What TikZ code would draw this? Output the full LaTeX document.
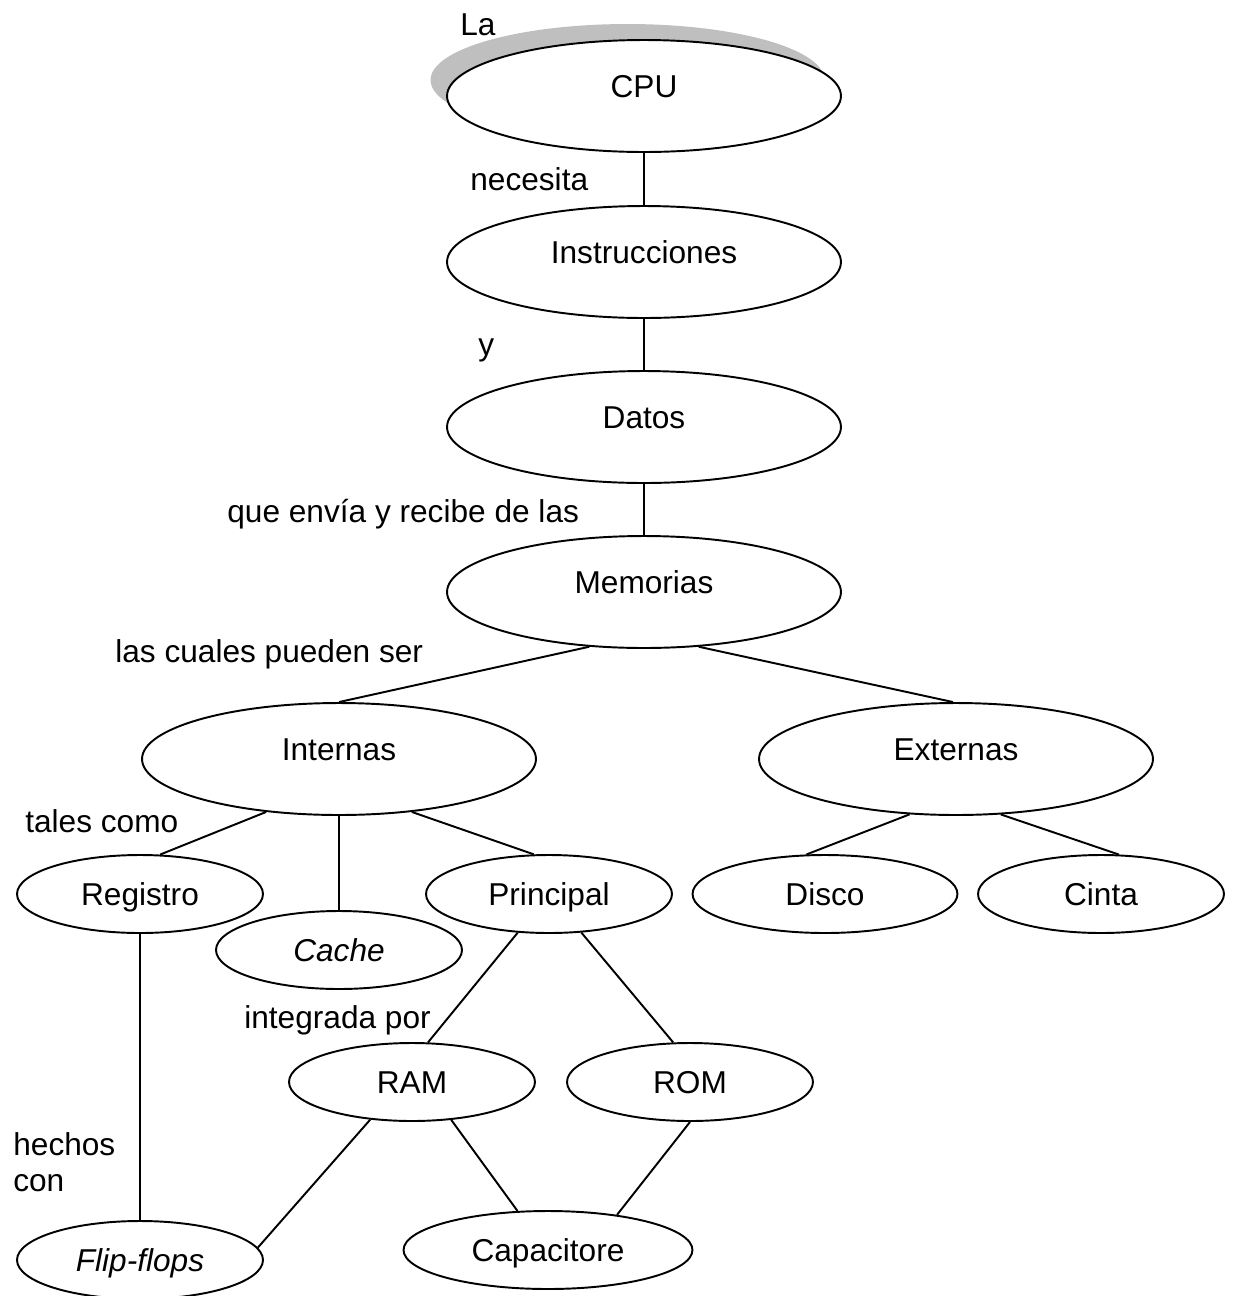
\documentclass[tikz,border=0pt]{standalone}
\usepackage{fontspec}
\setmainfont{Liberation Sans}
\usetikzlibrary{shapes.geometric,shadows}

\begin{document}
\begin{tikzpicture}[x=0.02cm,y=-0.02cm,
  every node/.style={font=\fontsize{18}{20.5}\selectfont, inner sep=0pt},
  grande/.style={ellipse,draw,fill=white,line width=1.1pt,minimum width=7.88cm,minimum height=2.24cm,text height=13pt,text depth=11pt},
  chica/.style={ellipse,draw,fill=white,line width=1.1pt,minimum width=4.92cm,minimum height=1.56cm,text height=13pt,text depth=0pt},
  enlace/.style={line width=1.1pt},
  rotulo/.style={anchor=base west}]
\useasboundingbox (0,0) rectangle (1233,1296);

% columna central
\node[grande,drop shadow={shadow xshift=-0.33cm,shadow yshift=0.32cm,fill=gray!50,opacity=1}] (cpu) at (644,96) {CPU};
\node[grande] (ins) at (644,262) {Instrucciones};
\node[grande] (dat) at (644,427) {Datos};
\node[grande] (mem) at (644,592) {Memorias};

% tipos de memoria
\node[grande] (int) at (339,759) {Internas};
\node[grande] (ext) at (956,759) {Externas};
\node[chica] (reg) at (140,894) {Registro};
\node[chica] (cac) at (339,950) {\textit{Cache}};
\node[chica] (pri) at (549,894) {Principal};
\node[chica,minimum width=5.3cm] (dis) at (825,894) {Disco};
\node[chica] (cin) at (1101,894) {Cinta};
\node[chica] (ram) at (412,1082) {RAM};
\node[chica] (rom) at (690,1082) {ROM};
\node[chica,minimum width=5.78cm] (cap) at (548,1250) {Capacitore};
\node[chica] (ffl) at (140,1260) {\textit{Flip-flops}};

\draw[enlace] (cpu.south) -- (ins.north);
\draw[enlace] (ins.south) -- (dat.north);
\draw[enlace] (dat.south) -- (mem.north);
\draw[enlace] (mem.225) -- (int.north);
\draw[enlace] (mem.315) -- (ext.93);
\draw[enlace] (int.216) -- (reg.63);
\draw[enlace] (int.south) -- (cac.north);
\draw[enlace] (int.324) -- (pri.111);
\draw[enlace] (ext.230) -- (dis.115);
\draw[enlace] (ext.309) -- (cin.66);
\draw[enlace] (reg.south) -- (ffl.north);
\draw[enlace] (pri.231) -- (ram.68);
\draw[enlace] (pri.310) -- (rom.113);
\draw[enlace] (ram.222) -- (ffl.6);
\draw[enlace] (ram.316) -- (cap.128);
\draw[enlace] (rom.south) -- (cap.27);

% palabras de enlace
\node[rotulo] (la) at (460,35) {La};
\node[rotulo] (nec) at (470,190) {necesita};
\node[rotulo] (yy) at (478,355) {y};
\node[rotulo] (env) at (227,522) {que envía y recibe de las};
\node[rotulo] (cua) at (115,662) {las cuales pueden ser};
\node[rotulo] (tal) at (25,832) {tales como};
\node[rotulo] (integ) at (244,1028) {integrada por};
\node[anchor=north west,align=left] (hec) at (13,1132) {hechos\\con};
\end{tikzpicture}
\end{document}
